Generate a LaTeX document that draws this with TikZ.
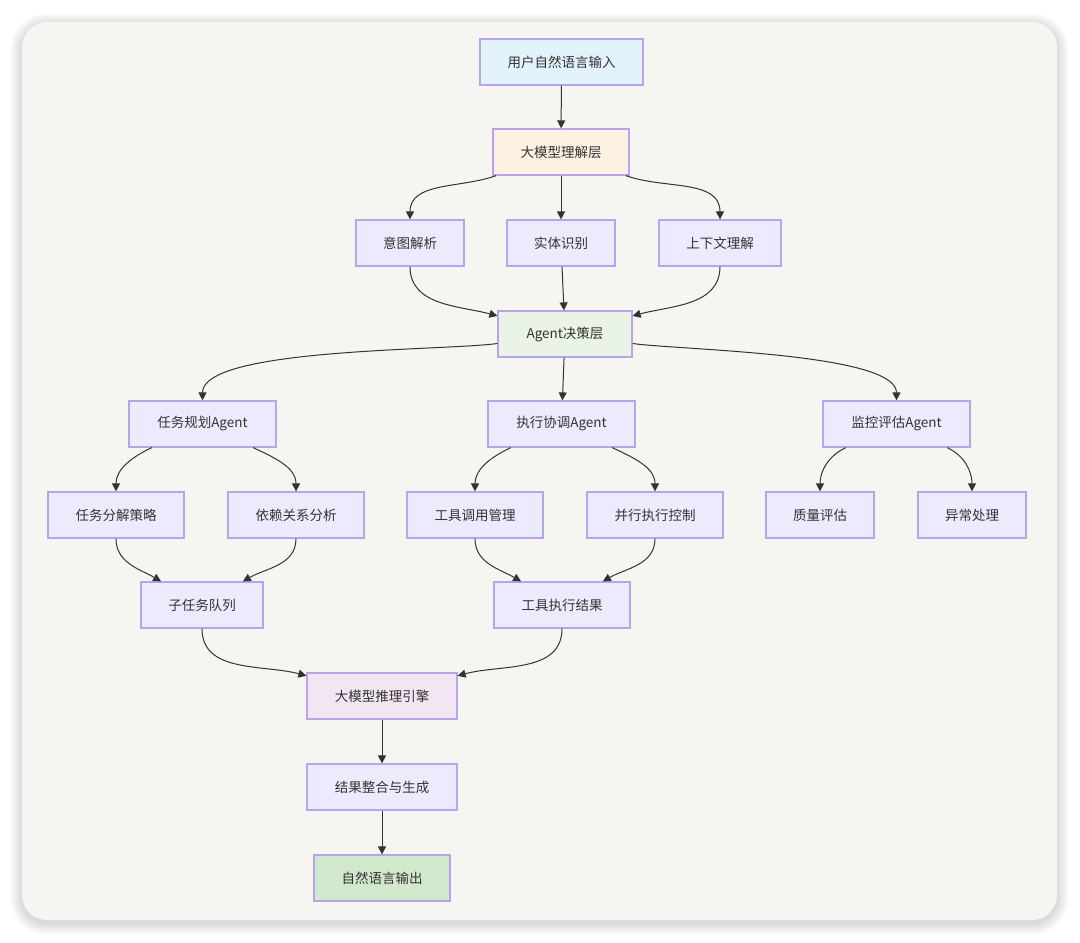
\documentclass[tikz,border=0pt]{standalone}
\usepackage{fontspec}
\setmainfont{Noto Sans CJK SC}
\usetikzlibrary{arrows.meta}
\definecolor{paper}{HTML}{F6F5F1}
\definecolor{nodeline}{HTML}{B6A5EA}
\definecolor{nodefill}{HTML}{ECEBFD}
\definecolor{inblue}{HTML}{E3F3FC}
\definecolor{llmcream}{HTML}{FCF1E1}
\definecolor{agentgreen}{HTML}{E9F3E6}
\definecolor{reasonpink}{HTML}{F3E6F4}
\definecolor{outgreen}{HTML}{D2E8CC}
\definecolor{edgegray}{HTML}{333333}
\begin{document}
\begin{tikzpicture}[x=1pt,y=1pt,
  box/.style={draw=nodeline,line width=1.2pt,fill=nodefill,minimum height=46pt,inner sep=0pt,text=edgegray,font=\fontsize{13.5}{16}\selectfont},
  flow/.style={draw=edgegray,line width=1pt,-{Triangle[length=8pt,width=8pt]}}]
\useasboundingbox (0,0) rectangle (1080,-943);
\fill[white] (0,0) rectangle (1080,-943);
% card with soft shadow
\foreach \s in {1,...,12}{\fill[black,opacity=0.012,rounded corners={25pt+\s pt}] (22-\s,-22+\s-3) rectangle (1057+\s,-920-\s-3);}
\fill[paper,rounded corners=25pt] (22,-22) rectangle (1057,-920);
% layers
\node[box,fill=inblue,minimum width=163] (in) at (561.5,-62) {用户自然语言输入};
\node[box,fill=llmcream,minimum width=136] (llm) at (561,-152) {大模型理解层};
\node[box,minimum width=108] (intent) at (410,-243) {意图解析};
\node[box,minimum width=108] (entity) at (561,-243) {实体识别};
\node[box,minimum width=122] (context) at (720,-243) {上下文理解};
\node[box,fill=agentgreen,minimum width=134] (agent) at (565,-334) {Agent决策层};
\node[box,minimum width=147] (plan) at (202.5,-424) {任务规划Agent};
\node[box,minimum width=147] (exec) at (561.5,-424) {执行协调Agent};
\node[box,minimum width=147] (mon) at (896.5,-424) {监控评估Agent};
\node[box,minimum width=136] (decomp) at (116,-515) {任务分解策略};
\node[box,minimum width=136] (dep) at (296,-515) {依赖关系分析};
\node[box,minimum width=136] (tool) at (475,-515) {工具调用管理};
\node[box,minimum width=136] (par) at (655,-515) {并行执行控制};
\node[box,minimum width=108] (qual) at (820,-515) {质量评估};
\node[box,minimum width=108] (exc) at (972,-515) {异常处理};
\node[box,minimum width=122] (queue) at (202,-605) {子任务队列};
\node[box,minimum width=136] (result) at (562,-605) {工具执行结果};
\node[box,fill=reasonpink,minimum width=150] (reason) at (382,-696) {大模型推理引擎};
\node[box,minimum width=150] (merge) at (382,-787) {结果整合与生成};
\node[box,fill=outgreen,minimum width=136] (out) at (382,-878) {自然语言输出};
% connectors
\foreach \a/\b in {in/llm,llm/entity,entity/agent,agent/exec,reason/merge,merge/out}{\draw[flow] (\a) -- (\b);}
\foreach \a/\b/\o/\i in {llm/intent/200/90,llm/context/-20/90,intent/agent/-90/165,context/agent/-90/15,
  plan/decomp/205/90,plan/dep/-25/90,exec/tool/205/90,exec/par/-25/90,
  mon/qual/205/90,mon/exc/-25/90,decomp/queue/-90/150,dep/queue/-90/30,tool/result/-90/150,par/result/-90/30,
  queue/reason/-90/165,result/reason/-90/15}{\draw[flow] (\a) to[out=\o,in=\i] (\b);}
\draw[flow] (agent) to[out=188,in=90,looseness=0.45] (plan);
\draw[flow] (agent) to[out=-8,in=90,looseness=0.45] (mon);
\end{tikzpicture}
\end{document}
